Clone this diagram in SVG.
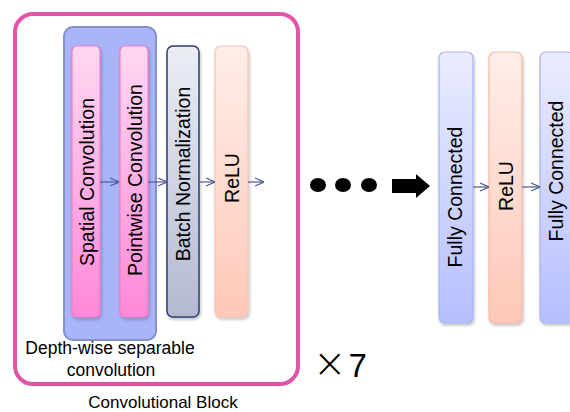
<svg xmlns="http://www.w3.org/2000/svg" width="570" height="412" viewBox="0 0 570 412">
<style>
text{font-family:"Liberation Sans",Arial,sans-serif;fill:#000}
.lbl{font-size:19.5px;text-anchor:middle;dominant-baseline:central}
.conn{stroke:#4a5a90;stroke-width:1.2;fill:none;marker-end:url(#ah)}
</style>
<defs>
<linearGradient id="gPink" x1="0" y1="0" x2="0" y2="1"><stop offset="0" stop-color="#ffd8f2"/><stop offset="1" stop-color="#ff88d8"/></linearGradient>
<linearGradient id="gGray" x1="0" y1="0" x2="0" y2="1"><stop offset="0" stop-color="#eceef4"/><stop offset="1" stop-color="#b4b9d2"/></linearGradient>
<linearGradient id="gPeach" x1="0" y1="0" x2="0" y2="1"><stop offset="0" stop-color="#ffeee8"/><stop offset="1" stop-color="#ffc8b8"/></linearGradient>
<linearGradient id="gBlue" x1="0" y1="0" x2="0" y2="1"><stop offset="0" stop-color="#eaecff"/><stop offset="1" stop-color="#b6bfff"/></linearGradient>
<filter id="sh" x="-20%" y="-5%" width="150%" height="115%"><feDropShadow dx="1" dy="2" stdDeviation="1.5" flood-color="#000" flood-opacity="0.25"/></filter>
<marker id="ah" viewBox="0 0 10 10" refX="10" refY="5" markerWidth="10" markerHeight="10" markerUnits="userSpaceOnUse" orient="auto"><path d="M1,1 L10,5 L1,9" fill="none" stroke="#4a5a90" stroke-width="1.2"/></marker>
</defs>

<g id="conv-block">
<rect x="15" y="14" width="283" height="370" rx="18" fill="#fff" stroke="#e055a8" stroke-width="4"/>
</g>
<g id="depthwise">
<rect x="64" y="27" width="92" height="313" rx="9" fill="#aab4f8" stroke="#8390cc" stroke-width="2"/>
</g>
<g id="spatial-conv">
<rect x="72" y="46" width="28" height="271" rx="5" fill="url(#gPink)" stroke="#f27cc8" stroke-width="1.2" filter="url(#sh)"/>
<text class="lbl" transform="translate(87,182) rotate(-90)">Spatial Convolution</text>
</g>
<g id="pointwise-conv">
<rect x="120" y="46" width="28" height="271" rx="5" fill="url(#gPink)" stroke="#f27cc8" stroke-width="1.2" filter="url(#sh)"/>
<text class="lbl" transform="translate(135,180) rotate(-90)">Pointwise Convolution</text>
</g>
<g id="batch-norm">
<rect x="167" y="46" width="32" height="271" rx="6" fill="url(#gGray)" stroke="#2e3c72" stroke-width="1.5" filter="url(#sh)"/>
<text class="lbl" transform="translate(183,174) rotate(-90)">Batch Normalization</text>
</g>
<g id="relu1">
<rect x="215" y="46" width="33" height="271" rx="6" fill="url(#gPeach)" stroke="#f8c4b4" stroke-width="1.2" filter="url(#sh)"/>
<text class="lbl" transform="translate(231.5,178) rotate(-90)">ReLU</text>
</g>
<g id="fc1">
<rect x="439" y="52" width="34" height="271" rx="6" fill="url(#gBlue)" stroke="#a9b1f6" stroke-width="1.2" filter="url(#sh)"/>
<text class="lbl" transform="translate(455,197) rotate(-90)">Fully Connected</text>
</g>
<g id="relu2">
<rect x="489" y="52" width="33" height="271" rx="6" fill="url(#gPeach)" stroke="#f6b8a8" stroke-width="1.2" filter="url(#sh)"/>
<text class="lbl" transform="translate(505.5,186) rotate(-90)">ReLU</text>
</g>
<g id="fc2">
<rect x="540" y="52" width="34" height="271" rx="6" fill="url(#gBlue)" stroke="#a9b1f6" stroke-width="1.2" filter="url(#sh)"/>
<text class="lbl" transform="translate(556,171) rotate(-90)">Fully Connected</text>
</g>

<g id="connectors">
<line class="conn" x1="100" y1="182" x2="119" y2="182"/>
<line class="conn" x1="148" y1="182" x2="167" y2="182"/>
<line class="conn" x1="199" y1="182" x2="215" y2="182"/>
<line class="conn" x1="248" y1="182" x2="264" y2="182"/>
<line class="conn" x1="473" y1="187" x2="489" y2="187"/>
<line class="conn" x1="522" y1="187" x2="540" y2="187"/>
<path d="M392,179 L416,179 L416,174 L430,186 L416,198 L416,193 L392,193 Z" fill="#000"/>
</g>

<g id="ellipsis">
<ellipse cx="318" cy="185" rx="8" ry="7" fill="#000"/>
<ellipse cx="343" cy="185" rx="8" ry="7" fill="#000"/>
<ellipse cx="369" cy="185" rx="8" ry="7" fill="#000"/>
</g>

<text x="110" y="354" font-size="17.5" text-anchor="middle">Depth-wise separable</text>
<text x="111" y="376" font-size="17.5" text-anchor="middle">convolution</text>
<text x="163" y="408" font-size="17" text-anchor="middle">Convolutional Block</text>
<text x="313" y="377" font-size="33"><tspan font-family="DejaVu Sans" font-weight="200" font-size="40">×</tspan><tspan dx="2">7</tspan></text>
</svg>
